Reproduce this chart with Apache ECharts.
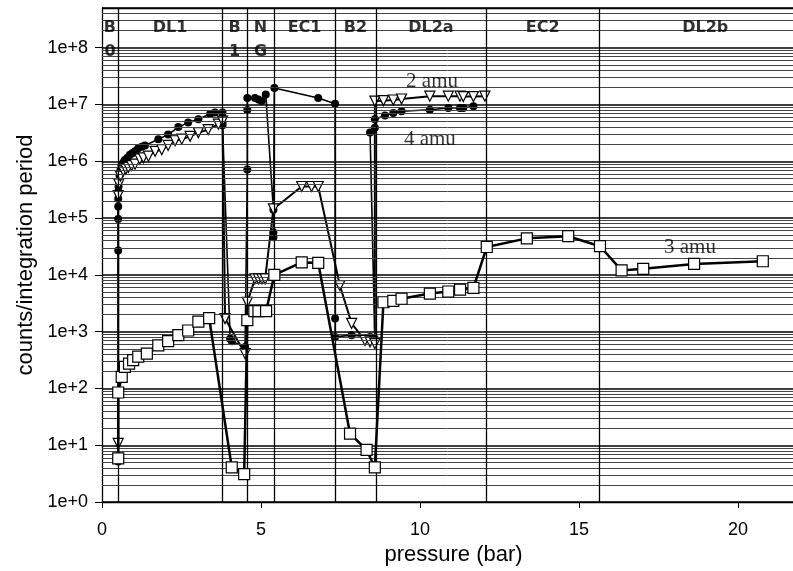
<!DOCTYPE html>
<html><head><meta charset="utf-8">
<script src="https://cdn.jsdelivr.net/npm/echarts@6/dist/echarts.min.js"></script>
<style>html,body{margin:0;padding:0;background:#fff}#c{width:793px;height:571px}</style>
</head><body><div id="c"></div>
<script>
// ---- data (pressure in bar, counts per integration period) ----
const amu2 = [ // open down-triangles
  [0.51,10.8],[0.51,2.5e5],[0.53,4e5],[0.58,5.5e5],[0.67,6.8e5],[0.75,7.3e5],[0.83,7.8e5],[0.93,8.4e5],[1.04,8.9e5],
  [1.19,1.1e6],[1.30,1.15e6],[1.46,1.23e6],[1.67,1.5e6],[1.88,1.6e6],[2.08,1.9e6],[2.30,2.3e6],[2.51,2.45e6],
  [2.77,2.75e6],[3.03,3.2e6],[3.34,3.6e6],[3.66,4.5e6],[3.79,5.1e6],
  [3.87,1.7e3],[4.50,410],[4.57,3.3e3],[4.81,8.5e3],[4.92,8.5e3],[5.03,8.5e3],[5.13,8.5e3],[5.39,1.45e5],
  [6.28,3.6e5],[6.59,3.6e5],[6.80,3.6e5],
  [7.48,6.5e3],[7.85,1.4e3],[8.27,700],[8.43,660],[8.58,615],
  [8.58,1.15e7],[8.85,1.17e7],[9.16,1.2e7],[9.42,1.25e7],[10.31,1.4e7],[10.89,1.4e7],[11.26,1.4e7],
  [11.36,1.38e7],[11.68,1.38e7],[12.04,1.4e7]
];
const amu3 = [ // open squares
  [0.51,5.9],[0.51,85],[0.62,160],[0.72,240],[0.85,275],[0.98,315],[1.14,365],[1.41,410],[1.77,575],
  [2.08,680],[2.40,870],[2.71,1050],[3.03,1500],[3.37,1740],[4.08,4.1],[4.47,3.1],[4.57,1600],[4.79,2300],
  [4.92,2300],[5.16,2300],[5.42,10000],[6.28,16600],[6.80,16300],[7.80,16],[8.32,8.3],[8.58,4.1],
  [8.85,3300],[9.16,3500],[9.42,3800],[10.31,4700],[10.89,5100],[11.26,5500],[11.68,5900],[12.10,31000],
  [13.36,44000],[14.66,48000],[15.66,32000],[16.34,12000],[17.02,12800],[18.62,15600],[20.78,17400]
];
const amu4 = [ // filled circles
  [0.51,5.2],[0.51,2.7e4],[0.51,9.6e4],[0.51,1.6e5],[0.51,2.2e5],[0.51,2.9e5],[0.52,3.6e5],[0.53,4.5e5],
  [0.55,5.6e5],[0.58,7e5],[0.62,8.5e5],[0.67,9.5e5],[0.72,1.05e6],[0.80,1.15e6],[0.88,1.3e6],[0.96,1.4e6],
  [1.04,1.5e6],[1.14,1.7e6],[1.25,1.8e6],[1.35,1.9e6],[1.77,2.45e6],[2.08,2.95e6],[2.40,4.0e6],[2.71,4.8e6],
  [3.03,5.5e6],[3.40,6.8e6],[3.55,7.2e6],[3.79,7.2e6],[3.79,6.0e6],[3.79,4.8e6],[3.79,4.3e6],
  [4.03,750],[4.08,680],[4.50,540],
  [4.57,7.2e5],[4.57,8e6],[4.57,1.3e7],[4.81,1.3e7],[4.92,1.23e7],[5.02,1.15e7],[5.15,1.5e7],
  [5.39,1.4e5],[5.39,5.6e4],[5.39,4.6e4],[5.42,1.95e7],[6.80,1.3e7],[7.33,1.03e7],
  [7.33,1.7e3],[7.33,810],[7.85,870],[8.43,810],[8.58,750],
  [8.43,3.2e6],[8.58,3.9e6],[8.58,5.5e6],[8.90,6.4e6],[9.16,7.1e6],[9.42,7.6e6],[10.31,8.1e6],
  [10.89,8.7e6],[11.26,8.7e6],[11.36,8.7e6],[11.68,9.3e6]
];
const regionEdges = [0, 0.5, 3.78, 4.56, 5.41, 7.33, 8.61, 12.08, 15.64, 22.3];
const regionTop = ['B','DL1','B','N','EC1','B2','DL2a','EC2','DL2b'];
const regionBottom = ['0','','1','G','','','','',''];
const annotations = [
  {name:'2 amu', value:[10.38, 2.5e7]},
  {name:'4 amu', value:[10.31, 2.4e6]},
  {name:'3 amu', value:[18.49, 3.0e4]}
];
const xTickValues = [0,5,10,15,20];

// ---- chart ----
const Y_MAX = 5e8, X_MAX = 21.73;
const ROW1 = 2.24e8, ROW2 = 8.5e7;
const FONT = 'Liberation Sans, Arial, sans-serif';

const minorVals = [];
for (let k = 0; k <= 8; k++) for (let m = 2; m <= 9; m++) { const v = m * Math.pow(10, k); if (v < Y_MAX) minorVals.push(v); }

const regionLabels = [];
regionTop.forEach((t, i) => {
  const cx = (regionEdges[i] + regionEdges[i+1]) / 2;
  regionLabels.push({name: t, value: [cx, ROW1]});
  if (regionBottom[i]) regionLabels.push({name: regionBottom[i], value: [cx, ROW2]});
});

const chart = echarts.init(document.getElementById('c'), null, {renderer: 'canvas'});
chart.setOption({
  animation: false,
  backgroundColor: '#fff',
  grid: {left: 102, right: 0, top: 8, bottom: 67},
  xAxis: {
    type: 'value', min: 0, max: X_MAX, interval: 5,
    name: 'pressure (bar)', nameLocation: 'middle', nameGap: 40,
    nameTextStyle: {fontFamily: FONT, fontSize: 22, color: '#000', padding: [0, 0, 0, 12]},
    axisLine: {show: true, lineStyle: {color: '#000', width: 1.3}},
    axisTick: {show: true, length: 6, lineStyle: {color: '#000'}},
    axisLabel: {fontFamily: FONT, fontSize: 18, color: '#000', margin: 19, showMaxLabel: false,
      formatter: v => xTickValues.indexOf(v) >= 0 ? String(v) : ''},
    splitLine: {show: false}
  },
  yAxis: {
    type: 'log', logBase: 10, min: 1, max: Y_MAX,
    name: 'counts/integration period', nameLocation: 'middle', nameGap: 64, nameRotate: 90,
    nameTextStyle: {fontFamily: FONT, fontSize: 22, color: '#000'},
    axisLine: {show: true, lineStyle: {color: '#000', width: 1.3}},
    axisTick: {show: true, length: 7, lineStyle: {color: '#000'}},
    axisLabel: {fontFamily: FONT, fontSize: 18, color: '#000', margin: 14, showMaxLabel: false,
      formatter: v => { const l = Math.log10(v); return Math.abs(l - Math.round(l)) < 1e-6 ? '1e+' + Math.round(l) : ''; }},
    splitLine: {show: true, lineStyle: {color: '#000', width: 1.5}}
  },
  series: [
    {
      type: 'line', data: [], z: 1, silent: true,
      markLine: {
        silent: true, animation: false, symbol: ['none','none'], label: {show: false},
        lineStyle: {color: '#444', width: 1, type: 'solid'},
        emphasis: {disabled: true},
        data: minorVals.map(v => ({yAxis: v})).concat([{yAxis: Y_MAX, lineStyle: {color: '#000', width: 1.4}}])
      }
    },
    {
      type: 'line', data: [], z: 1, silent: true,
      markLine: {
        silent: true, animation: false, symbol: ['none','none'], label: {show: false},
        lineStyle: {color: '#000', width: 1.3, type: 'solid'},
        emphasis: {disabled: true},
        data: regionEdges.slice(1, -1).map(x => ({xAxis: x}))
      }
    },
    {
      name: '4 amu', type: 'line', data: amu4, z: 3,
      symbol: 'circle', symbolSize: 8, showAllSymbol: true,
      itemStyle: {color: '#000'},
      lineStyle: {color: '#000', width: 1.6}
    },
    {
      name: '2 amu', type: 'line', data: amu2, z: 4,
      symbol: 'triangle', symbolRotate: 180, symbolSize: 10, showAllSymbol: true,
      itemStyle: {color: '#fff', borderColor: '#000', borderWidth: 1.2},
      lineStyle: {color: '#000', width: 2}
    },
    {
      name: '3 amu', type: 'line', data: amu3, z: 5,
      symbol: 'rect', symbolSize: 11, showAllSymbol: true,
      itemStyle: {color: '#fff', borderColor: '#000', borderWidth: 1.2},
      lineStyle: {color: '#000', width: 2.5}
    },
    {
      type: 'scatter', data: regionLabels, z: 6, silent: true,
      symbolSize: 1, itemStyle: {color: 'rgba(0,0,0,0)'},
      label: {show: true, position: 'inside', formatter: p => p.name,
        fontFamily: 'DejaVu Sans, sans-serif', fontWeight: 'bold', fontSize: 16, color: '#000'}
    },
    {
      type: 'scatter', data: annotations, z: 6, silent: true,
      symbolSize: 1, itemStyle: {color: 'rgba(0,0,0,0)'},
      label: {show: true, position: 'inside', formatter: p => p.name,
        fontFamily: 'Liberation Serif, Times New Roman, serif', fontSize: 21, color: '#000'}
    }
  ]
});
</script>
</body></html>
